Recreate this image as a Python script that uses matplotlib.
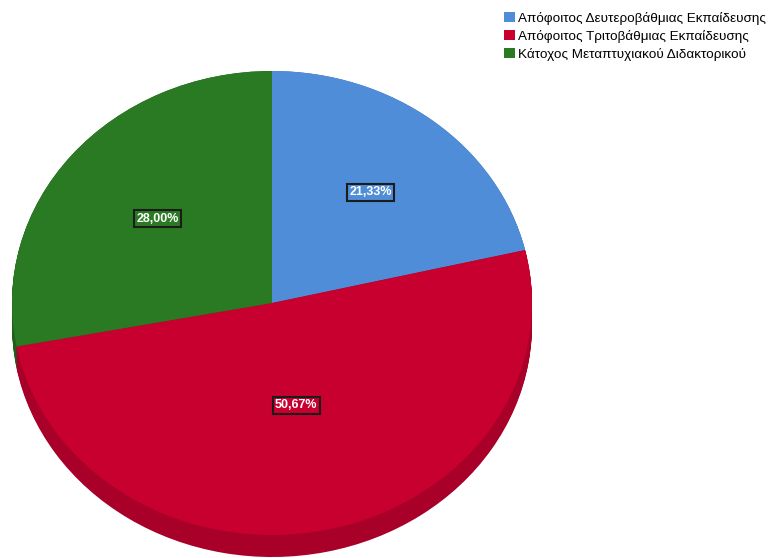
"""Pie chart of respondents by education level (SPSS-style, with a shallow 3D rim)."""
import matplotlib

matplotlib.use("Agg")
import matplotlib.pyplot as plt  # noqa: E402
import numpy as np  # noqa: E402
from matplotlib.patches import Patch  # noqa: E402

plt.rcParams["font.family"] = ["Liberation Sans", "DejaVu Sans"]

categories = [
    "Απόφοιτος Δευτεροβάθμιας Εκπαίδευσης",
    "Απόφοιτος Τριτοβάθμιας Εκπαίδευσης",
    "Κάτοχος Μεταπτυχιακού Διδακτορικού",
]
counts = [16, 38, 21]
face_colors = ["#4f8dd8", "#c7002f", "#2a7a24"]
rim_colors = ["#3a6fb0", "#a80028", "#1f5e1b"]

# pixel geometry of the ellipse on a 770x558 canvas
W, H = 770, 558
CX, CY = 272, 303
RX, RY = 260, 232
DEPTH = 22

fig = plt.figure(figsize=(W / 100, H / 100), dpi=100)
ax = fig.add_axes([0, 0, 1, 1])
ax.axis("off")

# rim: stack of darker pies shifted downwards
for off in np.linspace(DEPTH, 0, 24):
    ax.pie(counts, colors=rim_colors, startangle=90, counterclock=False,
           center=(0, -off / RY), radius=1,
           wedgeprops=dict(linewidth=0, antialiased=True))

wedges, _ = ax.pie(counts, colors=face_colors, startangle=90, counterclock=False,
                   radius=1, wedgeprops=dict(linewidth=0))
ax.set_aspect("auto")
ax.set_xlim(-CX / RX, (W - CX) / RX)
ax.set_ylim(-(H - CY) / RY, CY / RY)

# percentage labels
total = sum(counts)
label_dist = [0.61, 0.45, 0.57]
for w, n, d, c in zip(wedges, counts, label_dist, face_colors):
    mid = np.deg2rad((w.theta1 + w.theta2) / 2)
    pct = f"{100 * n / total:.2f}%".replace(".", ",")
    ax.text(d * np.cos(mid), d * np.sin(mid), pct, ha="center", va="center",
            color="white", fontsize=9, fontweight="bold",
            bbox=dict(boxstyle="square,pad=0.2", facecolor=c,
                      edgecolor="#1c1c1c", linewidth=1.5))

handles = [Patch(facecolor=c, edgecolor="none") for c in face_colors]
fig.legend(handles, categories, loc="upper left", bbox_to_anchor=(504 / W, 1 - 12 / H),
           frameon=False, fontsize=9.7, handlelength=0.8, handleheight=0.8,
           handletextpad=0.25, labelspacing=0.36, borderaxespad=0, borderpad=0)

fig.savefig("out.png", dpi=100)
